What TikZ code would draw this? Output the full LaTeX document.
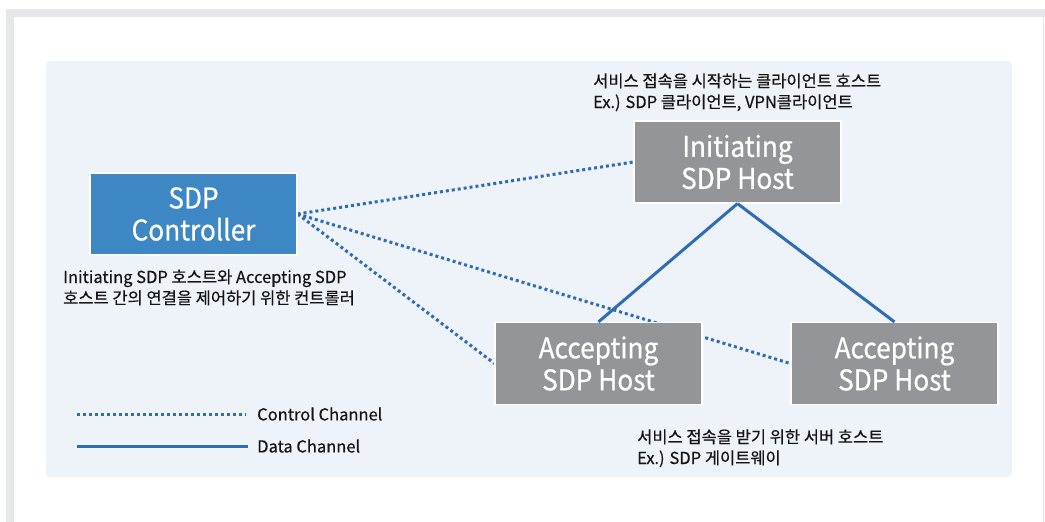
\documentclass[tikz,border=0pt]{standalone}
\usepackage{fontspec}
\setmainfont{Noto Sans CJK KR}
\newfontfamily\boxfont[FakeStretch=0.92,FakeBold=0.6]{Noto Sans CJK KR}
\newfontfamily\notefont[FakeBold=0.4]{Noto Sans CJK KR}
\pgfdeclarelayer{backdrop}
\pgfdeclarelayer{links}
\pgfsetlayers{backdrop,links,main}
\begin{document}
\begin{tikzpicture}[x=1pt,y=-1pt,
  boxbase/.style={draw=white,line width=1.2pt,minimum width=207pt,minimum height=82pt,
    inner sep=0pt,align=center,text=white,font=\boxfont\fontsize{28.5}{32}\selectfont},
  ctrlbox/.style={boxbase,fill=ctrlblue},
  hostbox/.style={boxbase,fill=hostgrey},
  ctrlline/.style={draw=lineblue,line width=3pt,dash pattern=on 3pt off 3pt},
  dataline/.style={draw=lineblue,line width=3pt},
  note/.style={anchor=base west,inner sep=0pt,font=\notefont\fontsize{16.5}{21}\selectfont,text=black!92}]
\definecolor{ctrlblue}{HTML}{3D87C4}
\definecolor{hostgrey}{HTML}{939598}
\definecolor{lineblue}{HTML}{2E6DB4}
\definecolor{framegrey}{HTML}{E6E7E8}
\definecolor{panelblue}{HTML}{EEF2F9}
\useasboundingbox (0,0) rectangle (1045,522);
\begin{pgfonlayer}{backdrop}
\fill[white] (0,0) rectangle (1045,522);
% page frame
\fill[framegrey] (6,9) rectangle (1045,17);
\fill[framegrey] (6,9) rectangle (14,522);
\draw[framegrey,line width=1pt] (1043.5,17) -- (1043.5,522);
% panel
\fill[panelblue,rounded corners=4pt] (46,61) rectangle (1012,477);
\end{pgfonlayer}

% nodes
\node[ctrlbox] (ctrl) at (193.5,214) {SDP\\Controller};
\node[hostbox] (init) at (737.5,162) {Initiating\\SDP Host};
\node[hostbox] (acc1) at (598.5,363.5) {Accepting\\SDP Host};
\node[hostbox] (acc2) at (894.5,363.5) {Accepting\\SDP Host};

% control channels, kept behind the hosts
\begin{pgfonlayer}{links}
\draw[ctrlline] (ctrl.east) -- (init.west);
\draw[ctrlline] (ctrl.east) -- (acc1.west);
\draw[ctrlline] (ctrl.east) -- (acc2.west);
\end{pgfonlayer}

% data channels
\draw[dataline] (init.south) -- (acc1.north);
\draw[dataline] (init.south) -- (acc2.north);

% notes
\node[note] (n1a) at (593,87) {서비스 접속을 시작하는 클라이언트 호스트};
\node[note] (n1b) at (593,108) {Ex.) SDP 클라이언트, VPN클라이언트};
\node[note] (n2a) at (63,283) {Initiating SDP 호스트와 Accepting SDP};
\node[note] (n2b) at (63,304) {호스트 간의 연결을 제어하기 위한 컨트롤러};
\node[note] (n3a) at (637,443) {서비스 접속을 받기 위한 서버 호스트};
\node[note] (n3b) at (637,464) {Ex.) SDP 게이트웨이};

% legend
\coordinate (lc1) at (77,414);
\coordinate (lc2) at (246,414);
\coordinate (ld1) at (77,446);
\coordinate (ld2) at (248,446);
\draw[ctrlline] (lc1) -- (lc2);
\draw[dataline] (ld1) -- (ld2);
\node[note,anchor=west] (lgc) at (257,414) {Control Channel};
\node[note,anchor=west] (lgd) at (257,446) {Data Channel};
\end{tikzpicture}
\end{document}
